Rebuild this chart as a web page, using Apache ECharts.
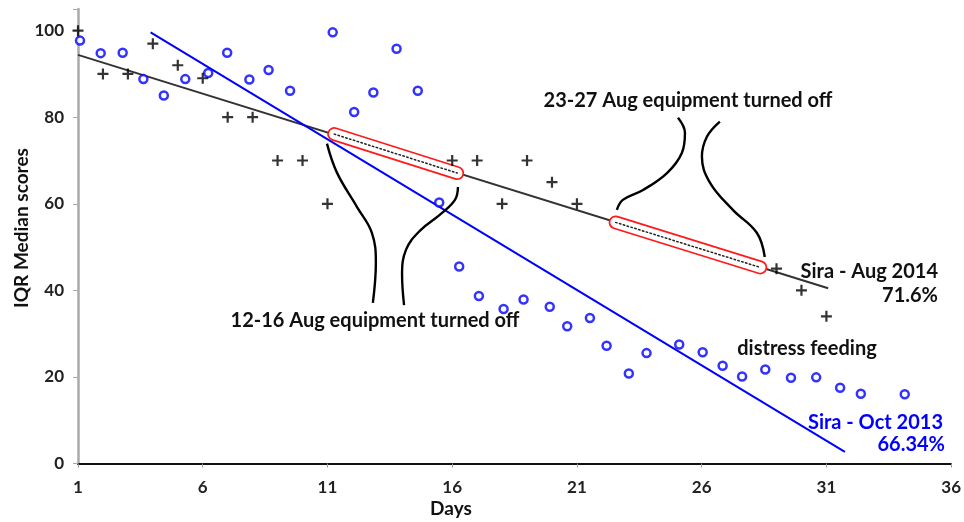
<!DOCTYPE html>
<html>
<head>
<meta charset="utf-8">
<script src="https://cdn.jsdelivr.net/npm/echarts@6/dist/echarts.min.js"></script>
<style>
  html, body { margin: 0; padding: 0; background: #fff; }
  #chart { width: 964px; height: 522px; }
</style>
</head>
<body>
<div id="chart"></div>
<script>
// Sira - Oct 2013 (blue circles)
var octDays = [1.08, 1.91, 2.79, 3.62, 4.44, 5.30, 6.22, 6.98, 7.87, 8.64, 9.50, 11.21, 12.07, 12.84, 13.77, 14.62, 15.48,
  16.28, 17.07, 18.06, 18.86, 19.91, 20.61, 21.52, 22.19, 23.08, 23.79, 25.10, 26.04, 26.84, 27.62, 28.55, 29.58,
  30.59, 31.55, 32.38, 34.14];
var octScores = [97.7, 94.8, 94.9, 88.8, 85.0, 88.8, 90.2, 94.9, 88.7, 90.9, 86.1, 99.6, 81.2, 85.7, 95.8, 86.1, 60.3,
  45.5, 38.7, 35.7, 37.9, 36.2, 31.7, 33.6, 27.2, 20.8, 25.5, 27.5, 25.7, 22.6, 20.1, 21.7, 19.8,
  19.9, 17.5, 16.1, 16.0];

// Sira - Aug 2014 (black crosses)
var augDays = [1, 2, 3, 4, 5, 6, 7, 8, 9, 10, 11, 16, 17, 18, 19, 20, 21, 29, 30, 31];
var augScores = [100, 90, 90, 97, 92, 89, 80, 80, 70, 70, 60, 70, 70, 60, 70, 65, 60, 45, 40, 34];

// trend lines (end points)
var augTrend = [[1, 94.4], [31.07, 40.5]];
var octTrend = [[3.91, 99.6], [31.74, 2.7]];

// equipment turned off periods on the Aug 2014 trend
var gapAug12 = [[11.27, 76.1], [16.2, 67.1]];
var gapAug23 = [[22.55, 55.7], [28.35, 45.3]];

// brace curves pointing at the gaps
var brace12Left = [[10.98, 73.9], [11.38, 67.2], [12.18, 59.3], [12.78, 53.3], [12.94, 46.3], [12.82, 37.1]];
var brace12Right = [[16.23, 63.9], [16.11, 60.9], [15.51, 57.5], [14.71, 53.8], [14.15, 49.4], [13.99, 43.6], [14.07, 36.6]];
var brace23Left = [[25.05, 79.9], [25.33, 76.4], [25.21, 71.8], [24.61, 67.1], [23.65, 63.2], [22.84, 60.9], [22.60, 58.6]];
var brace23Right = [[26.73, 79.0], [26.21, 75.5], [26.01, 70.9], [26.33, 64.9], [27.25, 58.6], [28.21, 53.3], [28.53, 47.7]];

var xTicks = { min: 1, max: 36, interval: 5 };
var yTicks = { min: 0, max: 105, interval: 20 };

function pairs(xs, ys) {
  return xs.map(function (x, i) { return [x, ys[i]]; });
}

var FONT = 'Lato';
var blue = '#0000ff';
var plusPath = 'path://M4,0 H6 V4 H10 V6 H6 V10 H4 V6 H0 V4 H4 Z';

function curve(data) {
  return {
    type: 'line', data: data, symbol: 'none', smooth: 0.4, silent: true,
    lineStyle: { color: '#000', width: 2.4 }, z: 6
  };
}
function gapLine(data, color, width, type, z) {
  return {
    type: 'line', data: data, symbol: 'none', silent: true, z: z,
    lineStyle: { color: color, width: width, type: type || 'solid', cap: 'round' }
  };
}
function note(x, y, text, align, color) {
  return {
    type: 'text', x: x, y: y,
    style: { text: text, font: 'bold 20px Lato', fill: color || '#111', align: align, verticalAlign: 'middle' }
  };
}

var myChart = echarts.init(document.getElementById('chart'));

var option = {
  animation: false,
  grid: { left: 78, right: 12, top: 9, bottom: 58.5 },
  xAxis: {
    type: 'value',
    min: xTicks.min, max: xTicks.max, interval: xTicks.interval,
    axisLine: { lineStyle: { color: '#111', width: 2 } },
    axisTick: { show: true, length: 4, lineStyle: { color: '#999' } },
    axisLabel: { margin: 16, color: '#222', fontFamily: FONT, fontWeight: 'bold', fontSize: 17 },
    splitLine: { show: false }
  },
  yAxis: {
    type: 'value',
    min: yTicks.min, max: yTicks.max, interval: yTicks.interval,
    axisLine: { show: true, lineStyle: { color: '#aaa', width: 2.5 } },
    axisTick: { show: true, length: 5, lineStyle: { color: '#aaa' } },
    axisLabel: {
      margin: 14, color: '#222', fontFamily: FONT, fontWeight: 'bold', fontSize: 17,
      formatter: function (v) { return v % 20 === 0 ? v : ''; }
    },
    splitLine: { show: false }
  },
  graphic: [
    { type: 'text', x: 22, y: 228, rotation: Math.PI / 2,
      style: { text: 'IQR Median scores', font: 'bold 19px Lato', fill: '#111', align: 'center', verticalAlign: 'middle' } },
    { type: 'text', x: 451, y: 509,
      style: { text: 'Days', font: 'bold 19px Lato', fill: '#111', align: 'center', verticalAlign: 'middle' } },
    note(688, 101, '23-27 Aug equipment turned off', 'center'),
    note(375, 321, '12-16 Aug equipment turned off', 'center'),
    note(938, 272, 'Sira - Aug 2014', 'right'),
    note(938, 296, '71.6%', 'right'),
    note(807, 349, 'distress feeding', 'center'),
    note(943, 423, 'Sira - Oct 2013', 'right', blue),
    note(945, 445, '66.34%', 'right', blue)
  ],
  series: [
    { name: 'Aug trend', type: 'line', data: augTrend, symbol: 'none', silent: true, z: 2,
      lineStyle: { color: '#333', width: 2 } },
    { name: 'Oct trend', type: 'line', data: octTrend, symbol: 'none', silent: true, z: 2,
      lineStyle: { color: blue, width: 2 } },
    gapLine(gapAug12, '#ff1a1a', 14, 'solid', 3),
    gapLine(gapAug12, '#ffffff', 10.5, 'solid', 3),
    gapLine(gapAug12, '#222', 1.5, [1.5, 2.5], 3),
    gapLine(gapAug23, '#ff1a1a', 14, 'solid', 3),
    gapLine(gapAug23, '#ffffff', 10.5, 'solid', 3),
    gapLine(gapAug23, '#222', 1.5, [1.5, 2.5], 3),
    curve(brace12Left), curve(brace12Right), curve(brace23Left), curve(brace23Right),
    { name: 'Sira - Oct 2013', type: 'scatter', data: pairs(octDays, octScores), z: 5,
      symbol: 'circle', symbolSize: 8,
      itemStyle: { color: '#fff', borderColor: blue, borderWidth: 2.5 } },
    { name: 'Sira - Aug 2014', type: 'scatter', data: pairs(augDays, augScores), z: 5,
      symbol: plusPath, symbolSize: 11,
      itemStyle: { color: '#000' } }
  ]
};

myChart.setOption(option);
</script>
</body>
</html>
